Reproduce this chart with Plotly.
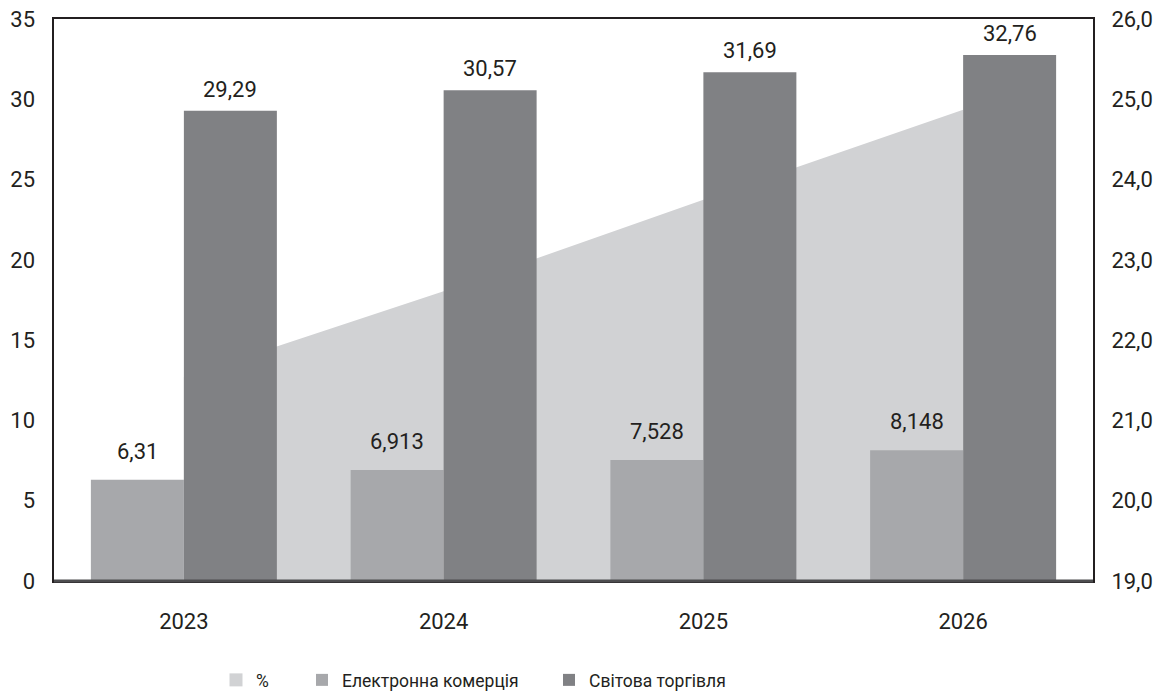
import plotly.graph_objects as go

years = ["2023", "2024", "2025", "2026"]
ecommerce = [6.31, 6.913, 7.528, 8.148]
world_trade = [29.29, 30.57, 31.69, 32.76]
share_pct = [21.54, 22.61, 23.75, 24.87]

ecom_labels = ["6,31", "6,913", "7,528", "8,148"]
world_labels = ["29,29", "30,57", "31,69", "32,76"]

FONT = "Roboto"
TXT = "#231f20"
AREA_C, ECOM_C, WORLD_C = "#d1d2d4", "#a7a8ab", "#808184"
W, H = 1163, 698
ML, MR, MT, MB = 54, 70, 19, 117
BARGAP = 0.284

fig = go.Figure()

fig.add_trace(go.Scatter(
    x=years, y=share_pct, name="%", mode="lines", line=dict(width=0, color=AREA_C),
    fill="tozeroy", fillcolor=AREA_C, yaxis="y", hoverinfo="skip", showlegend=False))
# legend entry for the area, shown as a square swatch like the reference
fig.add_trace(go.Scatter(
    x=[None], y=[None], name="%", mode="markers",
    marker=dict(symbol="square", size=13, color=AREA_C), yaxis="y",
    legend="legend", showlegend=True))

fig.add_trace(go.Bar(
    x=years, y=ecommerce, name="Електронна комерція", marker_color=ECOM_C,
    marker_line_width=0, yaxis="y2", legend="legend2", showlegend=True))
fig.add_trace(go.Bar(
    x=years, y=world_trade, name="Світова торгівля", marker_color=WORLD_C,
    marker_line_width=0, yaxis="y2", legend="legend3", showlegend=True))

cat_px = (W - ML - MR) / len(years)
off = cat_px * (1 - BARGAP) / 4

annos = []
for i, (v, t) in enumerate(zip(ecommerce, ecom_labels)):
    annos.append(dict(x=i, y=v, xref="x", yref="y2", text=t, showarrow=False, xshift=-off,
                      yanchor="bottom", yshift=14, font=dict(family=FONT, size=22, color=TXT)))
for i, (v, t) in enumerate(zip(world_trade, world_labels)):
    annos.append(dict(x=i, y=v, xref="x", yref="y2", text=t, showarrow=False, xshift=off,
                      yanchor="bottom", yshift=7, font=dict(family=FONT, size=22, color=TXT)))

leg_common = dict(orientation="h", xref="container", yref="container", yanchor="middle",
                  y=(H - 680) / H, font=dict(family=FONT, size=17.5, color=TXT),
                  bgcolor="rgba(0,0,0,0)", borderwidth=0)

fig.update_layout(
    width=W, height=H,
    margin=dict(l=ML, r=MR, t=MT, b=MB, autoexpand=False),
    plot_bgcolor="white", paper_bgcolor="white",
    separators=", ",
    showlegend=True,
    barmode="group", bargap=BARGAP, bargroupgap=0,
    font=dict(family=FONT, size=22, color=TXT),
    xaxis=dict(type="category", range=[-0.5, 3.5], showgrid=False, showline=True,
               mirror=True, linecolor=TXT, linewidth=2, ticks="", ticklabelstandoff=20,
               tickfont=dict(size=22), automargin=False),
    yaxis=dict(side="right", range=[19, 26], dtick=1, tickformat=".1f", showgrid=False,
               showline=True, mirror=True, linecolor=TXT, linewidth=2, ticks="",
               ticklabelstandoff=12, zeroline=False, automargin=False,
               tickfont=dict(size=22)),
    yaxis2=dict(overlaying="y", side="left", range=[0, 35], dtick=5, showgrid=False,
                showline=False, ticks="", ticklabelstandoff=18, zeroline=False,
                automargin=False, tickfont=dict(size=22)),
    legend=dict(**leg_common, x=216 / W),
    legend2=dict(**leg_common, x=302 / W),
    legend3=dict(**leg_common, x=549 / W),
    annotations=annos,
    shapes=[dict(type="line", xref="paper", yref="paper", x0=0, x1=1, y0=0, y1=0,
                 line=dict(color="#4d4d4f", width=3), layer="above")],
)

fig.write_html("out.html", config={"displayModeBar": False},
               post_script="document.body.style.margin='0';")
